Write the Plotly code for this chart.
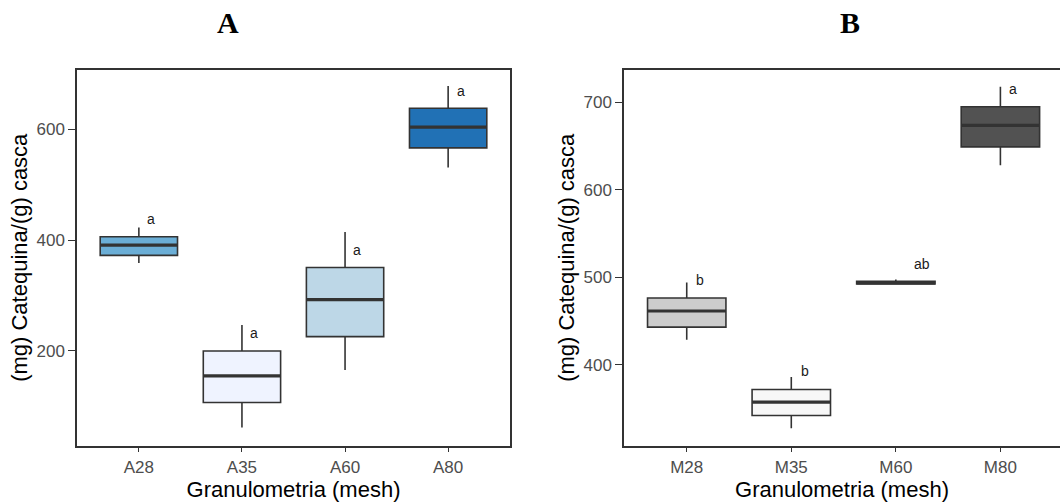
import plotly.graph_objects as go

# ---- data -------------------------------------------------------------
groups_a = ["A28", "A35", "A60", "A80"]
low_a = [358.6, 61.8, 165.8, 530.8]
q1_a = [372.3, 106.9, 225.8, 566.3]
med_a = [391.0, 155.0, 292.4, 603.6]
q3_a = [406.0, 200.0, 350.6, 637.8]
high_a = [422.7, 246.8, 414.4, 678.0]
letters_a = ["a", "a", "a", "a"]
letters_y_a = [437.8, 231.9, 382.5, 669.5]

groups_b = ["M28", "M35", "M60", "M80"]
low_b = [428.6, 327.4, 492.0, 628.2]
q1_b = [443.0, 341.9, 492.2, 649.1]
med_b = [461.4, 357.2, 493.5, 673.6]
q3_b = [476.3, 371.7, 495.3, 695.0]
high_b = [493.9, 385.8, 497.4, 717.9]
letters_b = ["b", "b", "ab", "a"]
letters_y_b = [496.6, 392.3, 515.7, 714.9]

ticks_a = [200, 400, 600]
ticks_b = [400, 500, 600, 700]

# ---- style ------------------------------------------------------------
fills_a = ["#6BAED6", "#EFF3FF", "#BDD7E7", "#2171B5"]
fills_b = ["#CCCCCC", "#F7F7F7", "#969696", "#525252"]
EDGE = "#333333"
BOX_W = 0.75
SANS = "Liberation Sans, Arial, sans-serif"
letter_dx = {"a": 0.12, "b": 0.13, "ab": 0.25}

fig = go.Figure()


def add_panel(xa, ya, groups, low, q1, med, q3, high, fills, letters, letters_y):
    for i, g in enumerate(groups):
        fig.add_trace(go.Box(
            x=[i], q1=[q1[i]], median=[med[i]], q3=[q3[i]],
            lowerfence=[low[i]], upperfence=[high[i]],
            width=BOX_W, whiskerwidth=0, fillcolor=fills[i],
            line=dict(color=EDGE, width=1.6), name=g,
            xaxis=xa, yaxis=ya, showlegend=False, hoverinfo="skip",
        ))
        # heavier median bar, as in ggplot's boxplot
        fig.add_trace(go.Scatter(
            x=[i - BOX_W / 2, i + BOX_W / 2], y=[med[i], med[i]],
            mode="lines", line=dict(color=EDGE, width=3.2),
            xaxis=xa, yaxis=ya, showlegend=False, hoverinfo="skip",
        ))
        fig.add_annotation(
            x=i + letter_dx[letters[i]], y=letters_y[i], text=letters[i],
            xref=xa, yref=ya, showarrow=False,
            font=dict(family=SANS, size=14, color="#1a1a1a"),
        )


add_panel("x", "y", groups_a, low_a, q1_a, med_a, q3_a, high_a,
          fills_a, letters_a, letters_y_a)
add_panel("x2", "y2", groups_b, low_b, q1_b, med_b, q3_b, high_b,
          fills_b, letters_b, letters_y_b)

tickfont = dict(family=SANS, size=17, color="#4D4D4D")
titlefont = dict(family=SANS, size=22, color="#000000")
xtitle = "Granulometria (mesh)"
ytitle = "(mg) Catequina/(g) casca"

common_x = dict(showgrid=False, zeroline=False, showline=True, linecolor=EDGE,
                linewidth=1.5, ticks="outside", ticklen=5, tickwidth=1.3,
                tickcolor=EDGE, tickfont=tickfont, tickvals=[0, 1, 2, 3],
                title=dict(text=xtitle, font=titlefont, standoff=3))
common_y = dict(showgrid=False, zeroline=False, showline=True, linecolor=EDGE,
                linewidth=1.5, ticks="outside", ticklen=7, tickwidth=1.3,
                tickcolor=EDGE, tickfont=tickfont,
                title=dict(text=ytitle, font=titlefont, standoff=3))

fig.update_layout(
    width=1060, height=504,
    margin=dict(l=0, r=0, t=0, b=0),
    paper_bgcolor="white", plot_bgcolor="white",
    xaxis=dict(common_x, domain=[77 / 1060, 510 / 1060], range=[-0.6, 3.6],
               ticktext=groups_a, mirror=True, anchor="y"),
    yaxis=dict(common_y, domain=[58.5 / 504, 434 / 504], range=[29.4, 706.8],
               tickvals=ticks_a, mirror=True, anchor="x"),
    xaxis2=dict(common_x, domain=[624 / 1060, 1.0], range=[-0.6, 3.57],
                ticktext=groups_b, mirror=True, anchor="y2"),
    yaxis2=dict(common_y, domain=[58.5 / 504, 434 / 504], range=[307.6, 737],
                tickvals=ticks_b, mirror=False, anchor="x2"),
)

# panel letters
for label, xc in (("A", 227.5), ("B", 850)):
    fig.add_annotation(
        x=xc / 1060, y=1 - 23 / 504, xref="paper", yref="paper",
        text="<b>%s</b>" % label, showarrow=False,
        xanchor="center", yanchor="middle",
        font=dict(family="Liberation Serif, Times New Roman, serif", size=30,
                  color="#000000"),
    )

fig.write_html("out.html")
